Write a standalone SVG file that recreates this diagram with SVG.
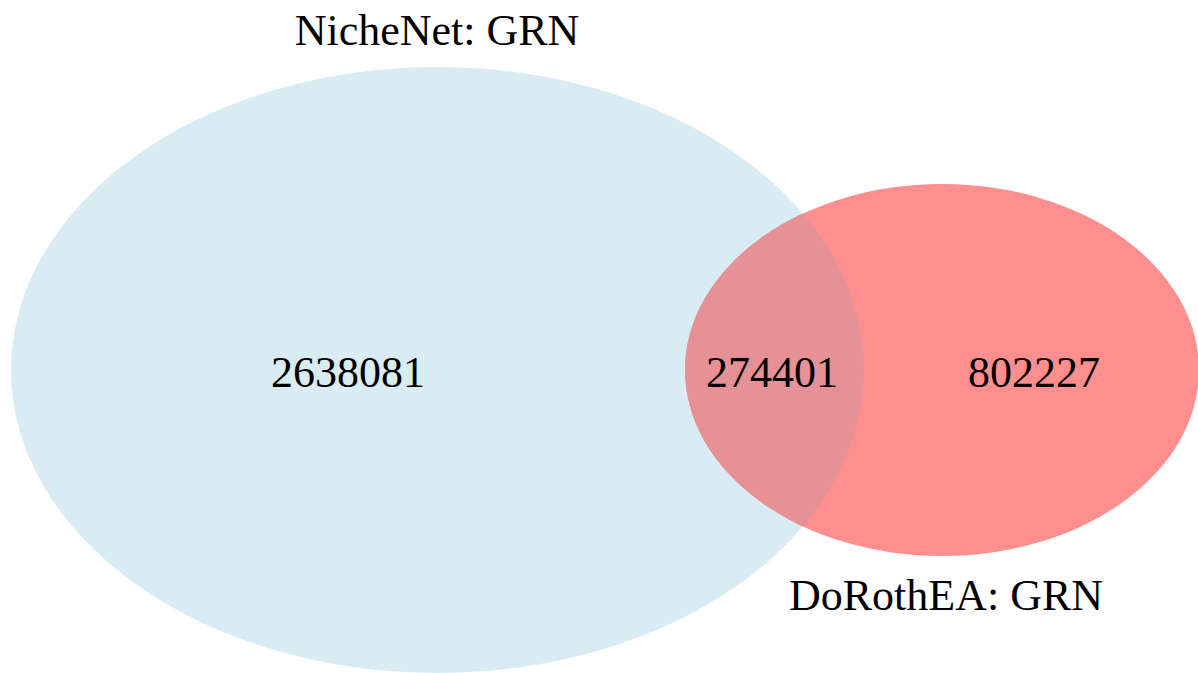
<svg xmlns="http://www.w3.org/2000/svg" width="1198" height="673" viewBox="0 0 1198 673">
<style>
text{font-family:"Liberation Serif","Times New Roman",serif;font-size:44px;fill:#000;text-anchor:middle}
</style>
<defs>
<clipPath id="clipRed"><ellipse cx="942" cy="370" rx="257" ry="186"/></clipPath>
</defs>
<rect width="1198" height="673" fill="#fff"/>
<g id="set-nichenet">
<ellipse cx="437.5" cy="370" rx="426.5" ry="303" fill="#daecf3"/>
<text x="437" y="45">NicheNet: GRN</text>
<text x="348" y="387">2638081</text>
</g>
<g id="set-dorothea">
<ellipse cx="942" cy="370" rx="257" ry="186" fill="#ff8f8f"/>
<text x="946" y="610">DoRothEA: GRN</text>
<text x="1034" y="387">802227</text>
</g>
<g id="intersection">
<ellipse cx="437.5" cy="370" rx="426.5" ry="303" fill="#e59196" clip-path="url(#clipRed)"/>
<text x="772" y="387">274401</text>
</g>
<g id="connectors"/>
</svg>
